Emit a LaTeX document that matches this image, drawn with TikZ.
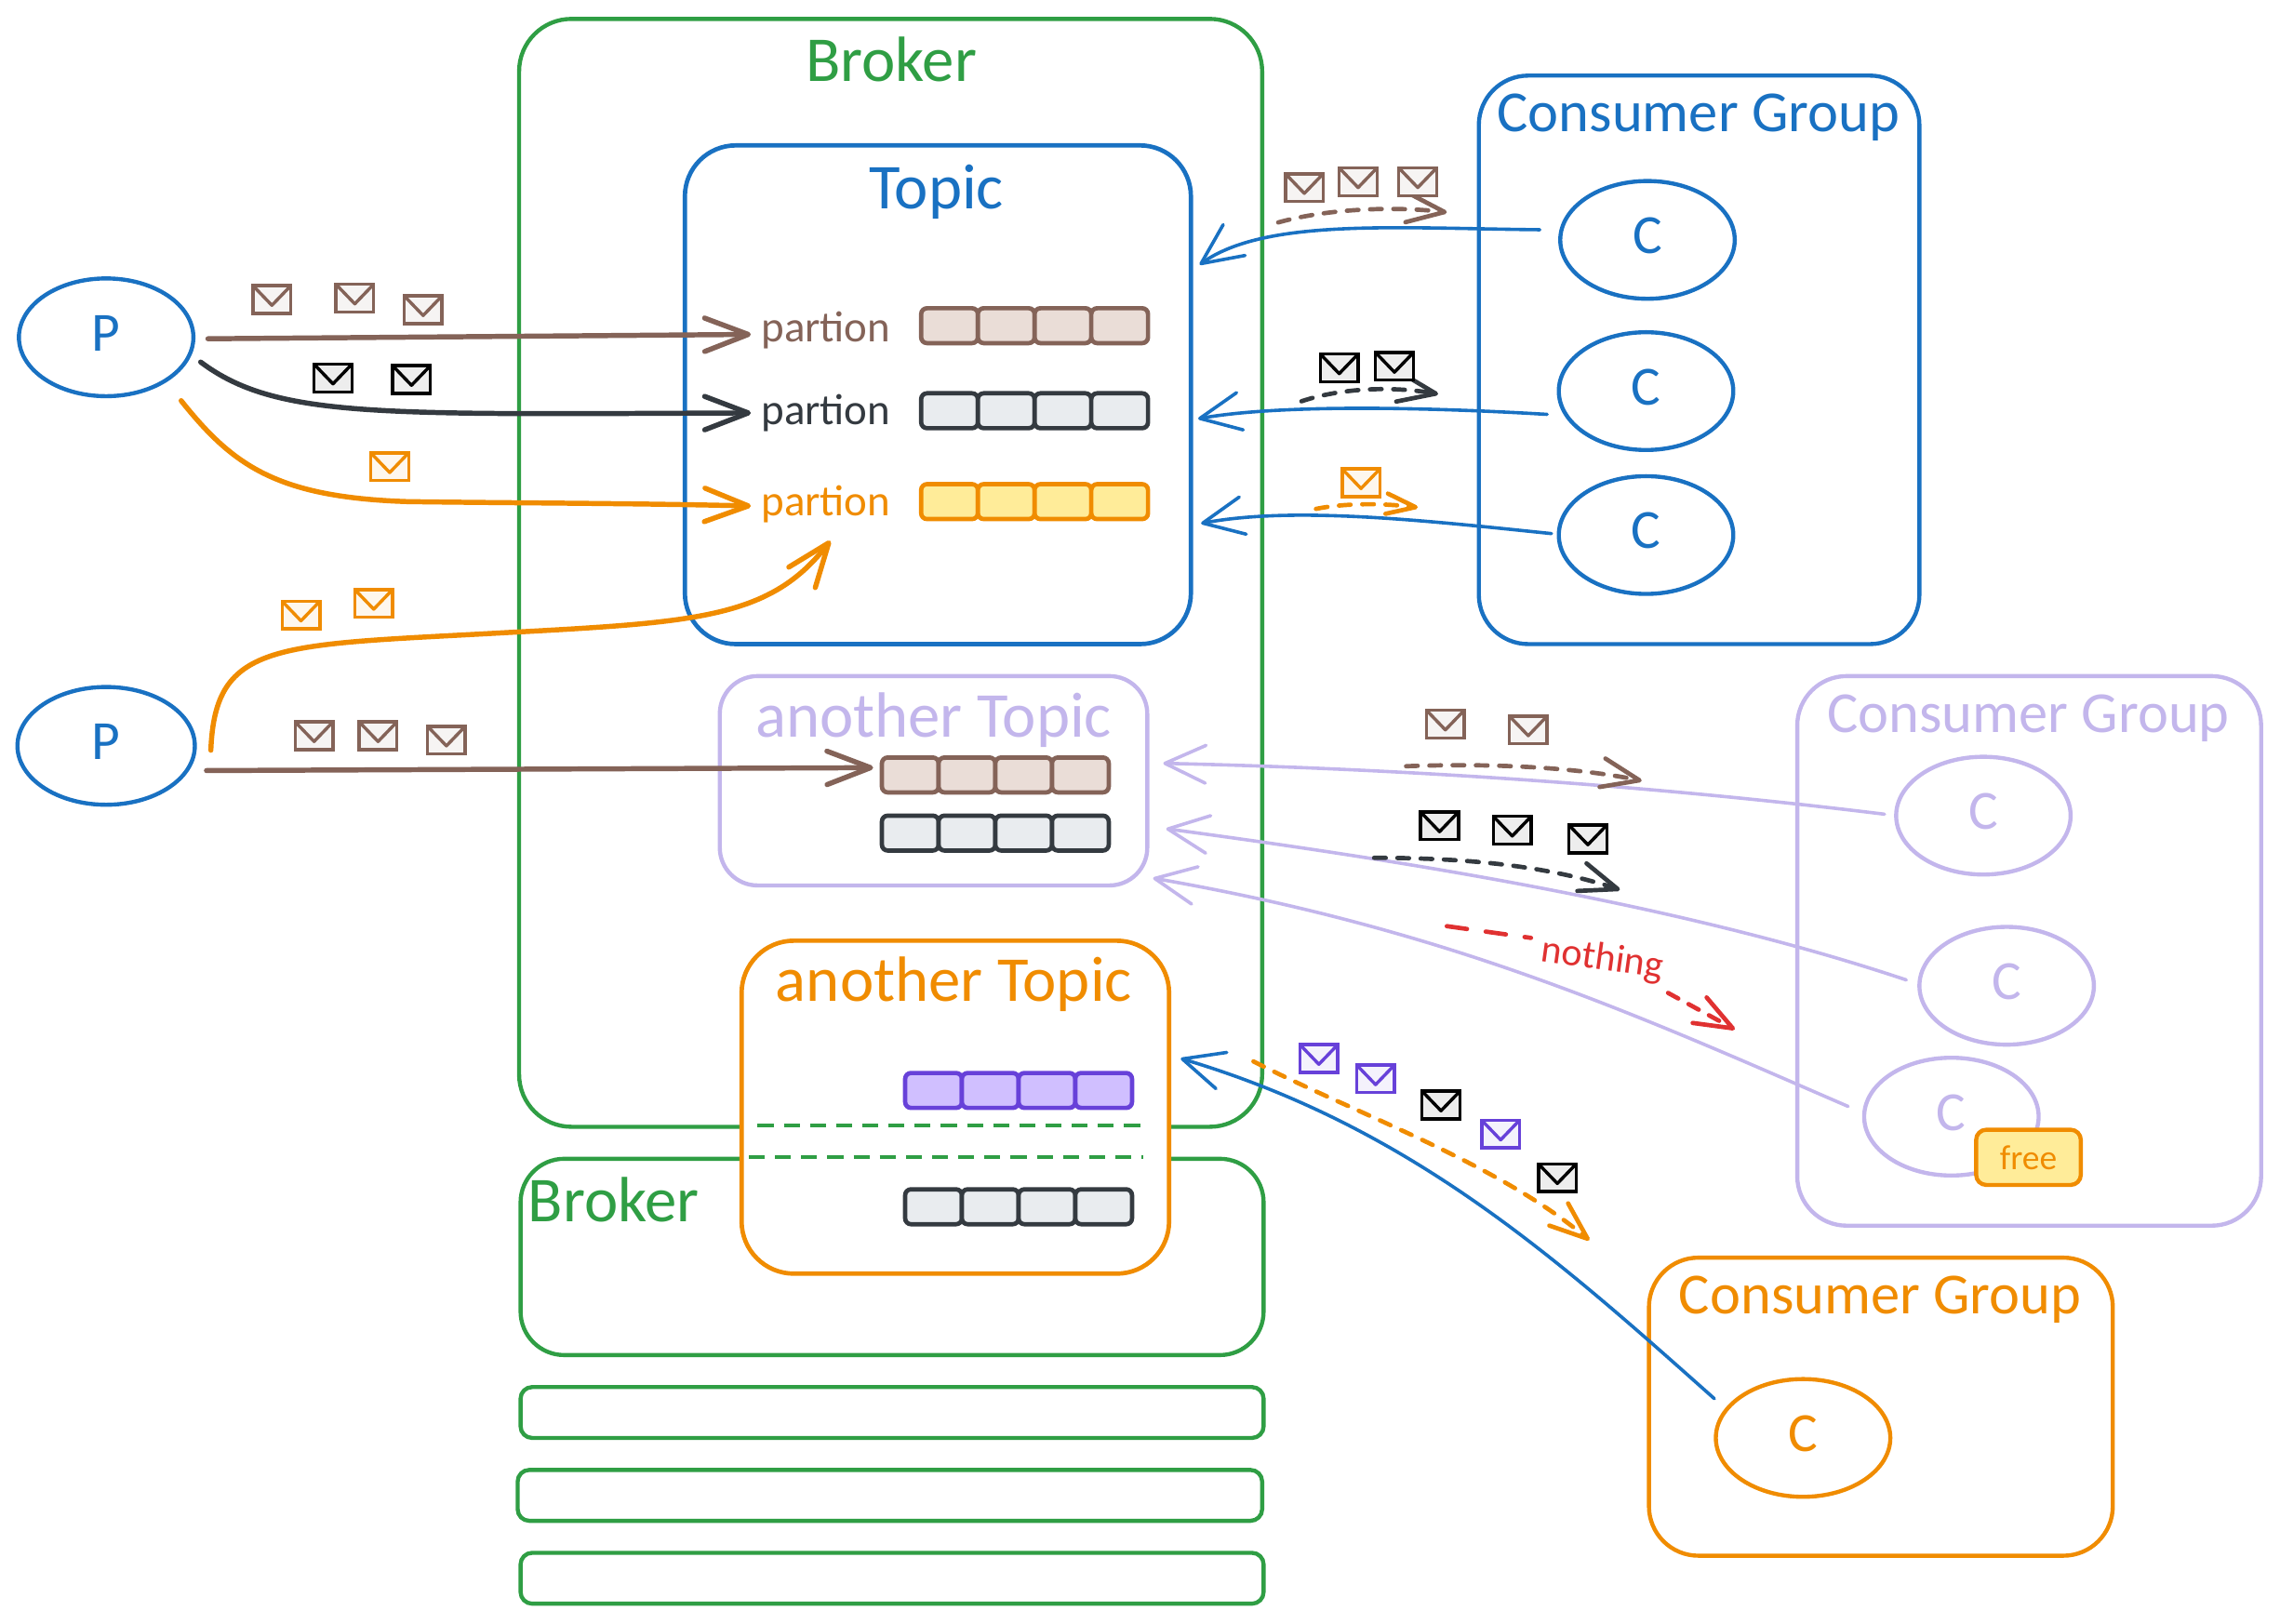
\documentclass[tikz,border=0pt]{standalone}
\usepackage{fontspec}
\setmainfont{Carlito}
\usetikzlibrary{arrows.meta,shapes.geometric,calc}
\definecolor{cgreen}{HTML}{2F9E44}
\definecolor{cblue}{HTML}{1971C2}
\definecolor{corange}{HTML}{F08C00}
\definecolor{cpurple}{HTML}{C3B6EC}
\definecolor{cbrown}{HTML}{846358}
\definecolor{cdark}{HTML}{343A40}
\definecolor{cred}{HTML}{E03131}
\definecolor{cviolet}{HTML}{6741D9}
\definecolor{fbrown}{HTML}{EADDD7}
\definecolor{fgray}{HTML}{E9ECEF}
\definecolor{fyellow}{HTML}{FFEC99}
\definecolor{fviolet}{HTML}{D0BFFF}
\tikzset{
  x=1pt,y=-1pt,
  boxs/.style={rectangle,inner sep=0pt,outer sep=0pt,line width=2.8pt},
  title/.style={inner sep=0pt,font=\fontsize{44}{46}\selectfont},
  grouptitle/.style={inner sep=0pt,font=\fontsize{40}{42}\selectfont},
  parttext/.style={inner sep=0pt,font=\fontsize{30}{32}\selectfont},
  round/.style={ellipse,inner sep=0pt,outer sep=0pt,line width=2.8pt,font=\fontsize{38}{40}\selectfont,minimum width=120pt,minimum height=81pt,text depth=6pt},
  cell/.style={rectangle,rounded corners=4pt,inner sep=0pt,outer sep=0pt,line width=3pt,minimum width=39pt,minimum height=24pt},
  flow/.style={line width=3.5pt,line cap=round,-{Straight Barb[length=30pt,width=23pt,round]}},
  back/.style={line width=2.3pt,line cap=round,-{Straight Barb[length=28pt,width=26pt,round]}},
  dflow/.style={line width=3pt,line cap=round,dash pattern=on 8pt off 8pt,-{Straight Barb[length=26pt,width=20pt,round,line width=3pt]}},
  envs/.style={line width=2.2pt,line join=miter},
}
\newcommand{\cells}[5]{%
  \node[cell,draw=#5,fill=#4] (#1a) at (#2+19,#3) {};
  \node[cell,draw=#5,fill=#4] (#1b) at (#2+58,#3) {};
  \node[cell,draw=#5,fill=#4] (#1c) at (#2+97,#3) {};
  \node[cell,draw=#5,fill=#4] (#1d) at (#2+136,#3) {};}
\newcommand{\env}[3]{%
  \begin{scope}[shift={(#1,#2)}]
    \draw[envs,draw=#3,fill=#3!7] (-13,-9.5) rectangle (13,9.5);
    \draw[envs,draw=#3,line join=round] (-13,-9.5) -- (0,4) -- (13,-9.5);
  \end{scope}}
\begin{document}
\begin{tikzpicture}
\useasboundingbox (0,0) rectangle (1568,1116.4);
\fill[white] (0,0) rectangle (1568,1116.4);
% brokers
\node[boxs,draw=cgreen,rounded corners=36pt,minimum width=511pt,minimum height=762pt] (broker) at (612.5,394) {};
\node[boxs,draw=cgreen,rounded corners=30pt,minimum width=511pt,minimum height=135pt] (brokerb) at (613.5,864.5) {};
\node[title,text=cgreen] (brokertxt) at (613,41) {Broker};
\node[title,text=cgreen] (brokerbtxt) at (422,825) {Broker};
\node[boxs,draw=cgreen,rounded corners=8pt,minimum width=511pt,minimum height=35pt] (brokerc) at (613.5,971.5) {};
\node[boxs,draw=cgreen,rounded corners=8pt,minimum width=512pt,minimum height=35pt] (brokerd) at (612,1028.5) {};
\node[boxs,draw=cgreen,rounded corners=8pt,minimum width=511pt,minimum height=35pt] (brokere) at (613.5,1085.5) {};
% topic
\node[boxs,draw=cblue,line width=3pt,rounded corners=35pt,minimum width=348pt,minimum height=343pt] (topic) at (645,271.5) {};
\node[title,text=cblue] (topictxt) at (644,132) {Topic};
\node[parttext,text=cbrown] (parta) at (568,227) {partion};
\node[parttext,text=cdark] (partb) at (568,284) {partion};
\node[parttext,text=corange] (partc) at (568,347) {partion};
\cells{ca}{634}{224}{fbrown}{cbrown}
\cells{cb}{634}{282.5}{fgray}{cdark}
\cells{cc}{634}{345}{fyellow}{corange}
% another topic (purple)
\node[boxs,draw=cpurple,rounded corners=26pt,minimum width=294pt,minimum height=144pt] (atopic) at (642,537) {};
\node[title,text=cpurple] (atopictxt) at (642,495) {another Topic};
\cells{da}{607}{533}{fbrown}{cbrown}
\cells{db}{607}{573}{fgray}{cdark}
% another topic (orange)
\node[boxs,draw=corange,fill=white,line width=3pt,rounded corners=36pt,minimum width=294pt,minimum height=229pt] (otopic) at (657,761.5) {};
\node[title,text=corange] (otopictxt) at (656,677) {another Topic};
\cells{ea}{623}{750}{fviolet}{cviolet}
\cells{eb}{623}{830}{fgray}{cdark}
\draw[cgreen,line width=2.6pt,dash pattern=on 11pt off 7pt] (521,774) -- (788,774);
\draw[cgreen,line width=2.6pt,dash pattern=on 11pt off 7pt] (515,796) -- (786,796);
% producers
\node[round,draw=cblue,text=cblue] (pa) at (73,232) {P};
\node[round,draw=cblue,text=cblue,minimum width=122pt] (pb) at (73,513) {P};
% consumer group blue
\node[boxs,draw=cblue,line width=2.8pt,rounded corners=34pt,minimum width=303pt,minimum height=391pt] (cga) at (1168.5,247.5) {};
\node[grouptitle,text=cblue] (cgatxt) at (1168,81) {Consumer Group};
\node[round,draw=cblue,text=cblue] (c1) at (1133,165) {C};
\node[round,draw=cblue,text=cblue] (c2) at (1132,269) {C};
\node[round,draw=cblue,text=cblue] (c3) at (1132,368) {C};
% consumer group purple
\node[boxs,draw=cpurple,rounded corners=34pt,minimum width=319pt,minimum height=378pt] (cgb) at (1395.5,654) {};
\node[grouptitle,text=cpurple] (cgbtxt) at (1395,494) {Consumer Group};
\node[round,draw=cpurple,text=cpurple] (c4) at (1364,561) {C};
\node[round,draw=cpurple,text=cpurple] (c5) at (1380,678) {C};
\node[round,draw=cpurple,text=cpurple] (c6) at (1342,768) {C};
\node[boxs,draw=corange,fill=fyellow,text=corange,rounded corners=7pt,minimum width=72pt,minimum height=38pt,font=\fontsize{24}{26}\selectfont] (free) at (1395,796) {free};
% consumer group orange
\node[boxs,draw=corange,line width=2.8pt,rounded corners=34pt,minimum width=319pt,minimum height=205pt] (cgc) at (1293.5,967.5) {};
\node[grouptitle,text=corange] (cgctxt) at (1293,894) {Consumer Group};
\node[round,draw=corange,text=corange] (c7) at (1240,989) {C};
% producer arrows
\draw[flow,cbrown] ([shift={(10,1)}]pa.east) -- ([xshift=-7pt,yshift=-3pt]parta.west);
\draw[flow,cdark] ([shift={(5,17)}]pa.east) .. controls (190,288) and (260,285) .. ([xshift=-7pt]partb.west);
\draw[flow,corange] ([shift={(18,10)}]pa.-45) .. controls (160,320) and (190,342) .. (280,345) .. controls (350,346) and (430,346) .. ([xshift=-7pt,yshift=-1pt]partc.west);
\draw[flow,corange] ([shift={(11,3)}]pb.east) .. controls (148,440) and (190,444) .. (350,435) .. controls (480,428) and (530,425) .. ([shift={(3,12)}]partc.south);
\draw[flow,cbrown] ([shift={(8,17)}]pb.east) -- ([shift={(-6,-5)}]daa.west);
% consumer back arrows
\draw[back,cblue] ([shift={(-14,-7)}]c1.west) .. controls (960,157) and (870,150) .. ([shift={(6,-89.5)}]topic.east);
\draw[back,cblue] ([shift={(-8,16)}]c2.west) .. controls (980,280) and (880,278) .. ([shift={(5,16.5)}]topic.east);
\draw[back,cblue] ([shift={(-5,-1)}]c3.west) .. controls (980,358) and (890,348) .. ([shift={(7,88.5)}]topic.east);
\draw[back,cpurple] ([shift={(-8,-1)}]c4.west) .. controls (1150,542) and (980,529) .. ([shift={(11,-12)}]atopic.east);
\draw[back,cpurple] ([shift={(-9,-4)}]c5.west) .. controls (1150,620) and (950,590) .. ([shift={(13,33)}]atopic.east);
\draw[back,cpurple] ([shift={(-11,-7)}]c6.west) .. controls (1130,700) and (1000,640) .. ([shift={(4,67)}]atopic.east);
\draw[back,cblue] ([shift={(-1,-27)}]c7.west) .. controls (1070,865) and (970,775) .. ([shift={(8,-33.5)}]otopic.east);
% message flows
\coordinate (fa1) at (879,153); \coordinate (fa2) at (995,146);
\draw[dflow,cbrown] (fa1) .. controls (915,143) and (960,142) .. (fa2);
\coordinate (fb1) at (895,276); \coordinate (fb2) at (989,271);
\draw[dflow,cdark] (fb1) .. controls (925,266) and (960,266) .. (fb2);
\coordinate (fc1) at (905,350); \coordinate (fc2) at (975,349);
\draw[dflow,corange,-{Straight Barb[length=20pt,width=14pt,round,line width=3pt]}] (fc1) .. controls (925,346) and (950,346) .. (fc2);
\coordinate (fd1) at (967,527); \coordinate (fd2) at (1129,537);
\draw[dflow,cbrown] (fd1) .. controls (1020,525) and (1080,527) .. (fd2);
\coordinate (fe1) at (945,590); \coordinate (fe2) at (1114,612);
\draw[dflow,cdark] (fe1) .. controls (1000,590) and (1060,594) .. (fe2);
\coordinate (ff1) at (862,730); \coordinate (ff2) at (1093,853);
\draw[dflow,corange] (ff1) .. controls (930,765) and (1030,800) .. (ff2);
\node[inner sep=0pt,text=cred,rotate=-8,font=\fontsize{27}{29}\selectfont] (nothing) at (1102,660) {nothing};
\coordinate (fg1) at (995,637); \coordinate (fg2) at (1193,708);
\draw[cred,line width=3pt,line cap=round,dash pattern=on 14pt off 13pt] (fg1) -- ([shift={(-7,-9)}]nothing.west);
\draw[dflow,cred] ([shift={(3,17)}]nothing.east) -- (fg2);
% envelopes
\env{187}{206}{cbrown}\env{244}{205}{cbrown}\env{291}{213}{cbrown}
\env{229}{260}{black}\env{283}{261}{black}
\env{268}{321}{corange}
\env{207}{423}{corange}\env{257}{415}{corange}
\env{216}{506}{cbrown}\env{260}{506}{cbrown}\env{307}{509}{cbrown}
\env{897}{129}{cbrown}\env{934}{125}{cbrown}\env{975}{125}{cbrown}
\env{921}{253}{black}\env{959}{252}{black}
\env{936}{332}{corange}
\env{994}{498}{cbrown}\env{1051}{502}{cbrown}
\env{990}{568}{black}\env{1040}{571}{black}\env{1092}{577}{black}
\env{907}{728}{cviolet}\env{946}{742}{cviolet}\env{1032}{780}{cviolet}
\env{991}{760}{black}\env{1071}{810}{black}
\end{tikzpicture}
\end{document}
